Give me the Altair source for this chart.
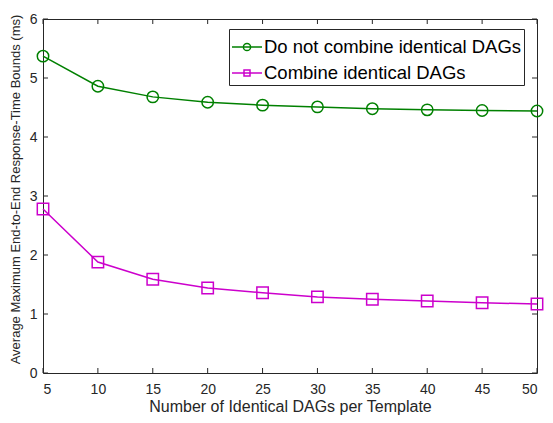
import altair as alt
import pandas as pd

x_vals = [5, 10, 15, 20, 25, 30, 35, 40, 45, 50]
no_combine = [5.37, 4.86, 4.68, 4.59, 4.54, 4.51, 4.48, 4.46, 4.45, 4.44]
combine = [2.78, 1.88, 1.59, 1.44, 1.36, 1.29, 1.25, 1.22, 1.19, 1.17]
series_names = ["Do not combine identical DAGs", "Combine identical DAGs"]
series_colors = ["#008000", "#cc00cc"]
x_ticks = [5, 10, 15, 20, 25, 30, 35, 40, 45, 50]
y_ticks = [0, 1, 2, 3, 4, 5, 6]

rows = []
for xv, a, b in zip(x_vals, no_combine, combine):
    rows.append({"n": xv, "v": a, "s": series_names[0]})
    rows.append({"n": xv, "v": b, "s": series_names[1]})
df = pd.DataFrame(rows)
legend_df = pd.DataFrame({"n": [5, 5], "v": [-5, -5], "s": series_names})
xt_df = pd.DataFrame({"n": x_ticks})
yt_df = pd.DataFrame({"v": y_ticks})

W, H = 494, 354
FONT = "Liberation Sans"
AX = "#262626"
TL = 5

xs = alt.Scale(domain=[5, 50], nice=False)
ys = alt.Scale(domain=[0, 6], nice=False)
cs = alt.Scale(domain=series_names, range=series_colors)

circle_path = "M-1,0L1,0M0.24,0A0.24,0.24,0,1,1,-0.24,0A0.24,0.24,0,1,1,0.24,0"
square_path = "M-1,0L1,0M-0.2,-0.2L0.2,-0.2L0.2,0.2L-0.2,0.2Z"

x_axis = alt.Axis(
    values=x_ticks, format="d", ticks=False, domain=False, grid=False,
    title="Number of Identical DAGs per Template", labelFontSize=14,
    titleFontSize=16, labelColor=AX, titleColor=AX, labelFont=FONT,
    titleFont=FONT, titleFontWeight="normal", labelPadding=9, titlePadding=2)
y_axis = alt.Axis(
    values=y_ticks, format="d", ticks=False, domain=False, grid=False,
    title="Average Maximum End-to-End Response-Time Bounds (ms)",
    labelFontSize=14, titleFontSize=13, labelColor=AX, titleColor=AX,
    labelFont=FONT, titleFont=FONT, titleFontWeight="normal",
    labelPadding=6, titlePadding=7, titleY=170)


def series_layers(name, color, shape):
    base = alt.Chart(df).transform_filter(alt.datum.s == name)
    ln = base.mark_line(strokeWidth=1.5, color=color).encode(
        x=alt.X("n:Q", scale=xs, axis=x_axis),
        y=alt.Y("v:Q", scale=ys, axis=y_axis),
    )
    pt = base.mark_point(shape=shape, filled=False, strokeWidth=1.5, size=130,
                         opacity=1, color=color).encode(
        x=alt.X("n:Q", scale=xs, axis=x_axis),
        y=alt.Y("v:Q", scale=ys, axis=y_axis),
    )
    return [ln, pt]


layers = series_layers(series_names[0], series_colors[0], "circle") + \
    series_layers(series_names[1], series_colors[1], "square")

# inward ticks on all four sides
xt_bottom = alt.Chart(xt_df).mark_rule(color=AX, strokeWidth=1).encode(
    x=alt.X("n:Q", scale=xs, axis=x_axis), y=alt.value(H), y2=alt.value(H - TL))
xt_top = alt.Chart(xt_df).mark_rule(color=AX, strokeWidth=1).encode(
    x=alt.X("n:Q", scale=xs, axis=x_axis), y=alt.value(0), y2=alt.value(TL))
yt_left = alt.Chart(yt_df).mark_rule(color=AX, strokeWidth=1).encode(
    y=alt.Y("v:Q", scale=ys, axis=y_axis), x=alt.value(0), x2=alt.value(TL))
yt_right = alt.Chart(yt_df).mark_rule(color=AX, strokeWidth=1).encode(
    y=alt.Y("v:Q", scale=ys, axis=y_axis), x=alt.value(W), x2=alt.value(W - TL))

leg = dict(title=None, orient="none", legendX=186, legendY=10, labelFontSize=18.5,
           labelFont=FONT, labelColor="#000000", strokeColor=AX, fillColor="white",
           padding=2, rowPadding=0, symbolSize=900, symbolStrokeWidth=1.5,
           labelOffset=1, labelLimit=400)

legend_layer = alt.Chart(legend_df).mark_point(filled=False, strokeWidth=1.5, clip=True, opacity=1).encode(
    x=alt.X("n:Q", scale=xs, axis=x_axis),
    y=alt.Y("v:Q", scale=ys, axis=y_axis),
    size=alt.value(900),
    color=alt.Color("s:N", scale=cs, legend=alt.Legend(**leg)),
    shape=alt.Shape("s:N", scale=alt.Scale(domain=series_names, range=[circle_path, square_path]),
                    legend=alt.Legend(**leg)),
)

chart = alt.layer(*layers, xt_bottom, xt_top, yt_left, yt_right, legend_layer).properties(
    width=W, height=H, autosize=alt.AutoSizeParams(type="none"),
    padding={"left": 35, "top": 11, "right": 8, "bottom": 42},
    background="white",
).configure_view(stroke=AX, strokeWidth=1)

chart.save("out.html", embed_options={"renderer": "svg", "actions": False})
